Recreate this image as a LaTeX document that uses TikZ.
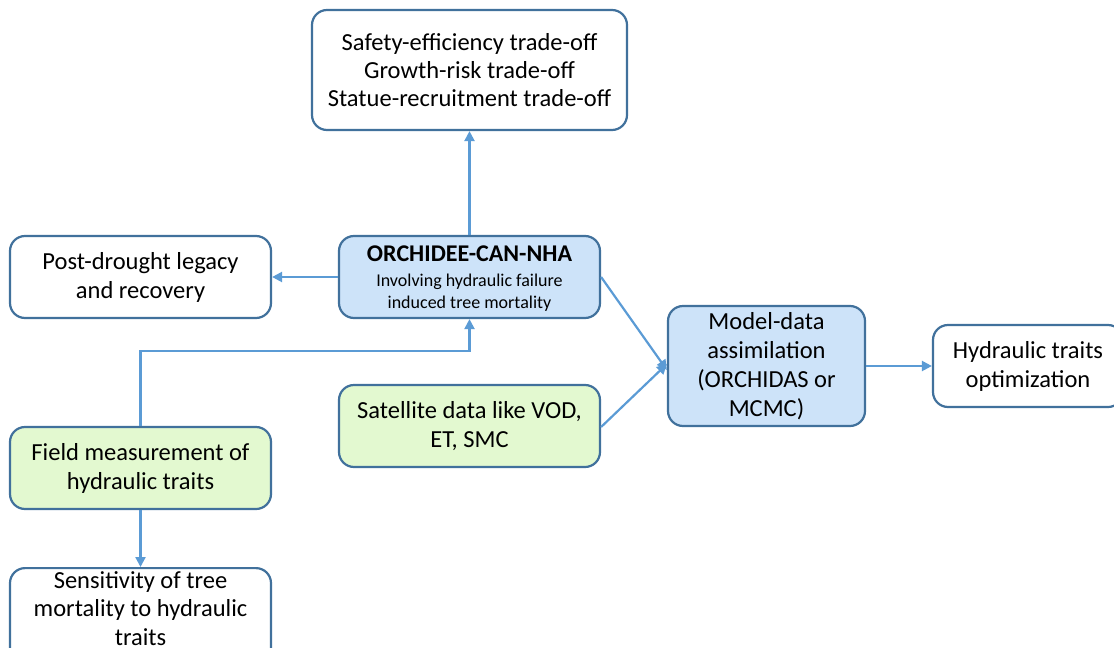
\documentclass[tikz,border=0pt]{standalone}
\usepackage{fontspec}
\setmainfont{Carlito}
\usetikzlibrary{arrows.meta}
\definecolor{bord}{HTML}{41719C}
\definecolor{arr}{HTML}{5B9BD5}
\definecolor{lblue}{HTML}{CDE3F9}
\definecolor{lgreen}{HTML}{E3F9D0}
\tikzset{
  box/.style={draw=bord, line width=2.2pt, rounded corners=15pt, align=center, inner sep=2pt, fill=white,
    font=\fontsize{24.5}{29}\selectfont},
  bluebox/.style={box, fill=lblue},
  greenbox/.style={box, fill=lgreen},
  conn/.style={draw=arr, line width=2.2pt, -{Triangle[length=10pt,width=10pt]}},
}
\begin{document}
\begin{tikzpicture}[x=1pt,y=-1pt]
\useasboundingbox (0,0) rectangle (1114,648);
\clip (0,0) rectangle (1114,648);
\node[box, minimum width=315pt, minimum height=120pt, font=\fontsize{24.5}{28}\selectfont] (top) at (469.5,70) {Safety-efficiency trade-off\\Growth-risk trade-off\\Statue-recruitment trade-off};
\node[box, minimum width=261pt, minimum height=82pt] (post) at (140.5,277) {Post-drought legacy\\and recovery};
\node[bluebox, minimum width=261pt, minimum height=82pt] (orch) at (469.5,277) {};
\node[align=center, font=\fontsize{18}{22}\selectfont] (orcht) at (469.5,279) {{\bfseries\fontsize{24}{22}\selectfont ORCHIDEE-CAN-NHA}\\[3pt]Involving hydraulic failure\\induced tree mortality};
\node[bluebox, minimum width=197pt, minimum height=120pt] (model) at (766.5,366) {Model-data\\assimilation\\(ORCHIDAS or\\MCMC)};
\node[box, minimum width=190pt, minimum height=82pt] (hyd) at (1028,366) {Hydraulic traits\\optimization};
\node[greenbox, minimum width=261pt, minimum height=82pt] (sat) at (469.5,426) {Satellite data like VOD,\\ET, SMC};
\node[greenbox, minimum width=261pt, minimum height=82pt] (field) at (140.5,468) {Field measurement of\\hydraulic traits};
\node[box, minimum width=261pt, minimum height=110pt, anchor=north] (sens) at (140.5,567) {};
\node[anchor=north, align=center, font=\fontsize{24.5}{28.5}\selectfont] (senst) at (140.5,568) {Sensitivity of tree\\mortality to hydraulic\\traits};
\draw[conn] (orch.north) -- (top.south);
\draw[conn] (orch.west) -- (post.east);
\draw[conn] (orch.east) -- ([yshift=-4pt]model.west);
\draw[conn] ([yshift=-1pt]sat.east) -- ([yshift=2pt]model.west);
\draw[conn] (model.east) -- (hyd.west);
\draw[conn] (field.north) |- (469.5,351) -- (orch.south);
\draw[conn] (field.south) -- (sens.north);
\end{tikzpicture}
\end{document}
